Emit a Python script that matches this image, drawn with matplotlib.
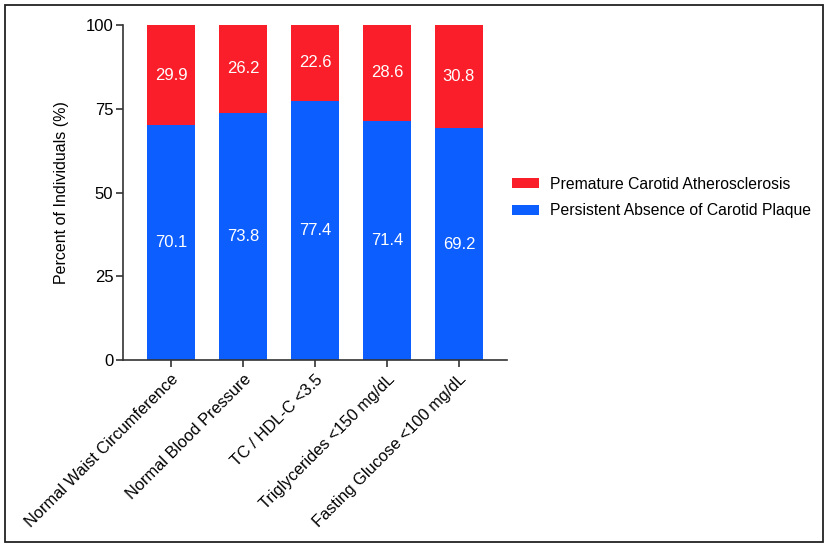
import numpy as np
import matplotlib.pyplot as plt
from matplotlib.patches import Rectangle

plt.rcParams['font.family'] = ['Liberation Sans', 'DejaVu Sans']

categories = ['Normal Waist Circumference', 'Normal Blood Pressure',
              'TC / HDL-C <3.5', 'Triglycerides <150 mg/dL',
              'Fasting Glucose <100 mg/dL']
absence = [70.1, 73.8, 77.4, 71.4, 69.2]
premature = [29.9, 26.2, 22.6, 28.6, 30.8]
yticks = [0, 25, 50, 75, 100]

red = '#F91E29'
blue = '#0D5EFF'

fig = plt.figure(figsize=(8.31, 5.51), dpi=100)
ax = fig.add_axes([0.148, 0.3466, 0.462, 0.608])

x = np.arange(len(categories))
width = 0.667
ax.bar(x, absence, width, color=blue, label='Persistent Absence of Carotid Plaque')
ax.bar(x, premature, width, bottom=absence, color=red,
       label='Premature Carotid Atherosclerosis')

for i in range(len(categories)):
    ax.text(x[i], absence[i] / 2, f'{absence[i]:.1f}', ha='center', va='center',
            color='white', fontsize=12)
    ax.text(x[i], absence[i] + premature[i] / 2, f'{premature[i]:.1f}',
            ha='center', va='center', color='white', fontsize=12)

ax.set_xlim(-0.667, len(categories) - 1 + 0.667)
ax.set_ylim(0, 100)
ax.set_yticks(yticks)
ax.set_xticks(x)
ax.set_xticklabels(categories, rotation=45, ha='right', rotation_mode='anchor',
                   fontsize=11.8)
ax.tick_params(axis='y', labelsize=12, length=5, width=1.2, color='#333333', pad=2)
ax.tick_params(axis='x', length=5, width=1.2, color='#333333')
ax.set_ylabel('Percent of Individuals (%)', fontsize=11.5, labelpad=12)
for s in ['top', 'right']:
    ax.spines[s].set_visible(False)
for s in ['left', 'bottom']:
    ax.spines[s].set_linewidth(1.2)
    ax.spines[s].set_color('#333333')

handles, labels = ax.get_legend_handles_labels()
fig.legend(handles[::-1], labels[::-1], loc='upper left',
           bbox_to_anchor=(0.599, 0.705), frameon=False, fontsize=11.3,
           handlelength=1.7, handleheight=0.6, handletextpad=0.7,
           labelspacing=0.75)

fig.patches.append(Rectangle((5 / 831, 9 / 551), 818 / 831, 537 / 551,
                             transform=fig.transFigure, fill=False,
                             edgecolor='#222222', linewidth=1.3))

fig.savefig('out.png', dpi=100)
